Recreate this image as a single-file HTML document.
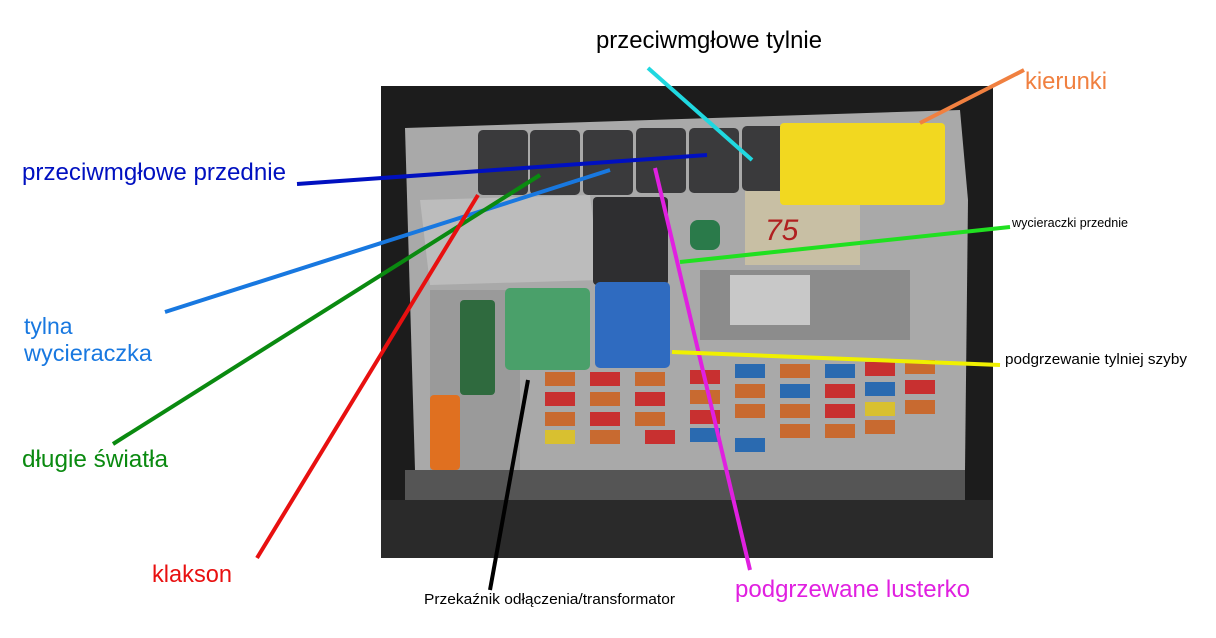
<!DOCTYPE html>
<html><head><meta charset="utf-8"><style>
html,body{margin:0;padding:0;background:#fff;width:1216px;height:638px;overflow:hidden}
svg{display:block}
text{font-family:"Liberation Sans",sans-serif}
</style></head><body>
<svg width="1216" height="638" viewBox="0 0 1216 638" xmlns="http://www.w3.org/2000/svg">
<rect x="0" y="0" width="1216" height="638" fill="#fff"/>
<rect x="381" y="86" width="612" height="472" fill="#1c1c1c"/>
<polygon points="405,128 960,110 968,200 965,470 930,490 440,495 415,470" fill="#a9a9a9"/>
<polygon points="420,200 590,195 600,280 430,285" fill="#bcbcbc"/>
<polygon points="430,290 520,290 520,480 430,480" fill="#9a9a9a"/>
<rect x="405" y="470" width="560" height="30" fill="#555"/>
<rect x="381" y="500" width="612" height="58" fill="#2a2a2a"/>
<rect x="700" y="270" width="210" height="70" fill="#8c8c8c"/>
<rect x="730" y="275" width="80" height="50" fill="#c8c8c8"/>
<rect x="745" y="190" width="115" height="75" fill="#c8bfa4"/>
<rect x="478" y="130" width="50" height="65" rx="5" fill="#3a3a3c"/>
<rect x="530" y="130" width="50" height="65" rx="5" fill="#3a3a3c"/>
<rect x="583" y="130" width="50" height="65" rx="5" fill="#3a3a3c"/>
<rect x="636" y="128" width="50" height="65" rx="5" fill="#3a3a3c"/>
<rect x="689" y="128" width="50" height="65" rx="5" fill="#3a3a3c"/>
<rect x="742" y="126" width="48" height="65" rx="5" fill="#3a3a3c"/>
<rect x="780" y="123" width="165" height="82" rx="4" fill="#f2d820"/>
<text x="765" y="240" font-size="30" fill="#b02020" font-style="italic">75</text>
<rect x="593" y="197" width="75" height="88" rx="4" fill="#2e2e30"/>
<rect x="690" y="220" width="30" height="30" rx="8" fill="#2a7a4a"/>
<rect x="505" y="288" width="85" height="82" rx="5" fill="#4aa06a"/>
<rect x="595" y="282" width="75" height="86" rx="5" fill="#2f6bc0"/>
<rect x="460" y="300" width="35" height="95" rx="4" fill="#2f6a3e"/>
<rect x="430" y="395" width="30" height="75" rx="4" fill="#e07020"/>
<g>
<rect x="545" y="372" width="30" height="14" fill="#c86a30"/><rect x="590" y="372" width="30" height="14" fill="#c83030"/><rect x="635" y="372" width="30" height="14" fill="#c86a30"/><rect x="690" y="370" width="30" height="14" fill="#c83030"/><rect x="735" y="364" width="30" height="14" fill="#2a6ab0"/><rect x="780" y="364" width="30" height="14" fill="#c86a30"/><rect x="825" y="364" width="30" height="14" fill="#2a6ab0"/><rect x="865" y="362" width="30" height="14" fill="#c83030"/><rect x="905" y="360" width="30" height="14" fill="#c86a30"/>
<rect x="545" y="392" width="30" height="14" fill="#c83030"/><rect x="590" y="392" width="30" height="14" fill="#c86a30"/><rect x="635" y="392" width="30" height="14" fill="#c83030"/><rect x="690" y="390" width="30" height="14" fill="#c86a30"/><rect x="735" y="384" width="30" height="14" fill="#c86a30"/><rect x="780" y="384" width="30" height="14" fill="#2a6ab0"/><rect x="825" y="384" width="30" height="14" fill="#c83030"/><rect x="865" y="382" width="30" height="14" fill="#2a6ab0"/><rect x="905" y="380" width="30" height="14" fill="#c83030"/>
<rect x="545" y="412" width="30" height="14" fill="#c86a30"/><rect x="590" y="412" width="30" height="14" fill="#c83030"/><rect x="635" y="412" width="30" height="14" fill="#c86a30"/><rect x="690" y="410" width="30" height="14" fill="#c83030"/><rect x="735" y="404" width="30" height="14" fill="#c86a30"/><rect x="780" y="404" width="30" height="14" fill="#c86a30"/><rect x="825" y="404" width="30" height="14" fill="#c83030"/><rect x="865" y="402" width="30" height="14" fill="#d8c030"/><rect x="905" y="400" width="30" height="14" fill="#c86a30"/>
<rect x="545" y="430" width="30" height="14" fill="#d8c030"/><rect x="590" y="430" width="30" height="14" fill="#c86a30"/><rect x="645" y="430" width="30" height="14" fill="#c83030"/><rect x="690" y="428" width="30" height="14" fill="#2a6ab0"/><rect x="735" y="438" width="30" height="14" fill="#2a6ab0"/><rect x="780" y="424" width="30" height="14" fill="#c86a30"/><rect x="825" y="424" width="30" height="14" fill="#c86a30"/><rect x="865" y="420" width="30" height="14" fill="#c86a30"/>
</g>
<g stroke-width="4" fill="none">
<line x1="648" y1="68" x2="752" y2="160" stroke="#20d8e0"/>
<line x1="1024" y1="70" x2="920" y2="123" stroke="#f08040"/>
<line x1="297" y1="184" x2="707" y2="155" stroke="#0010c0"/>
<line x1="165" y1="312" x2="610" y2="170" stroke="#1878e0"/>
<line x1="113" y1="444" x2="540" y2="175" stroke="#0a8a10"/>
<line x1="257" y1="558" x2="478" y2="195" stroke="#e81010"/>
<line x1="490" y1="590" x2="528" y2="380" stroke="#000"/>
<line x1="655" y1="168" x2="750" y2="570" stroke="#e020e0"/>
<line x1="680" y1="262" x2="1010" y2="227" stroke="#20e020"/>
<line x1="672" y1="352" x2="1000" y2="365" stroke="#f0f000"/>
</g>
<text x="596" y="48" font-size="24" fill="#000" textLength="226" lengthAdjust="spacingAndGlyphs">przeciwmgłowe tylnie</text>
<text x="1025" y="89" font-size="24" fill="#f08040" textLength="82" lengthAdjust="spacingAndGlyphs">kierunki</text>
<text x="22" y="180" font-size="24" fill="#0010c0" textLength="264" lengthAdjust="spacingAndGlyphs">przeciwmgłowe przednie</text>
<text x="1012" y="227" font-size="13" fill="#000" textLength="116" lengthAdjust="spacingAndGlyphs">wycieraczki przednie</text>
<text x="24" y="334" font-size="23" fill="#1878e0">tylna</text>
<text x="24" y="361" font-size="23" fill="#1878e0" textLength="128" lengthAdjust="spacingAndGlyphs">wycieraczka</text>
<text x="1005" y="364" font-size="15" fill="#000" textLength="182" lengthAdjust="spacingAndGlyphs">podgrzewanie tylniej szyby</text>
<text x="22" y="467" font-size="24" fill="#0a8a10" textLength="146" lengthAdjust="spacingAndGlyphs">długie światła</text>
<text x="152" y="582" font-size="24" fill="#e81010" textLength="80" lengthAdjust="spacingAndGlyphs">klakson</text>
<text x="424" y="604" font-size="15" fill="#000" textLength="251" lengthAdjust="spacingAndGlyphs">Przekaźnik odłączenia/transformator</text>
<text x="735" y="597" font-size="24" fill="#e020e0" textLength="235" lengthAdjust="spacingAndGlyphs">podgrzewane lusterko</text>
</svg>
</body></html>
